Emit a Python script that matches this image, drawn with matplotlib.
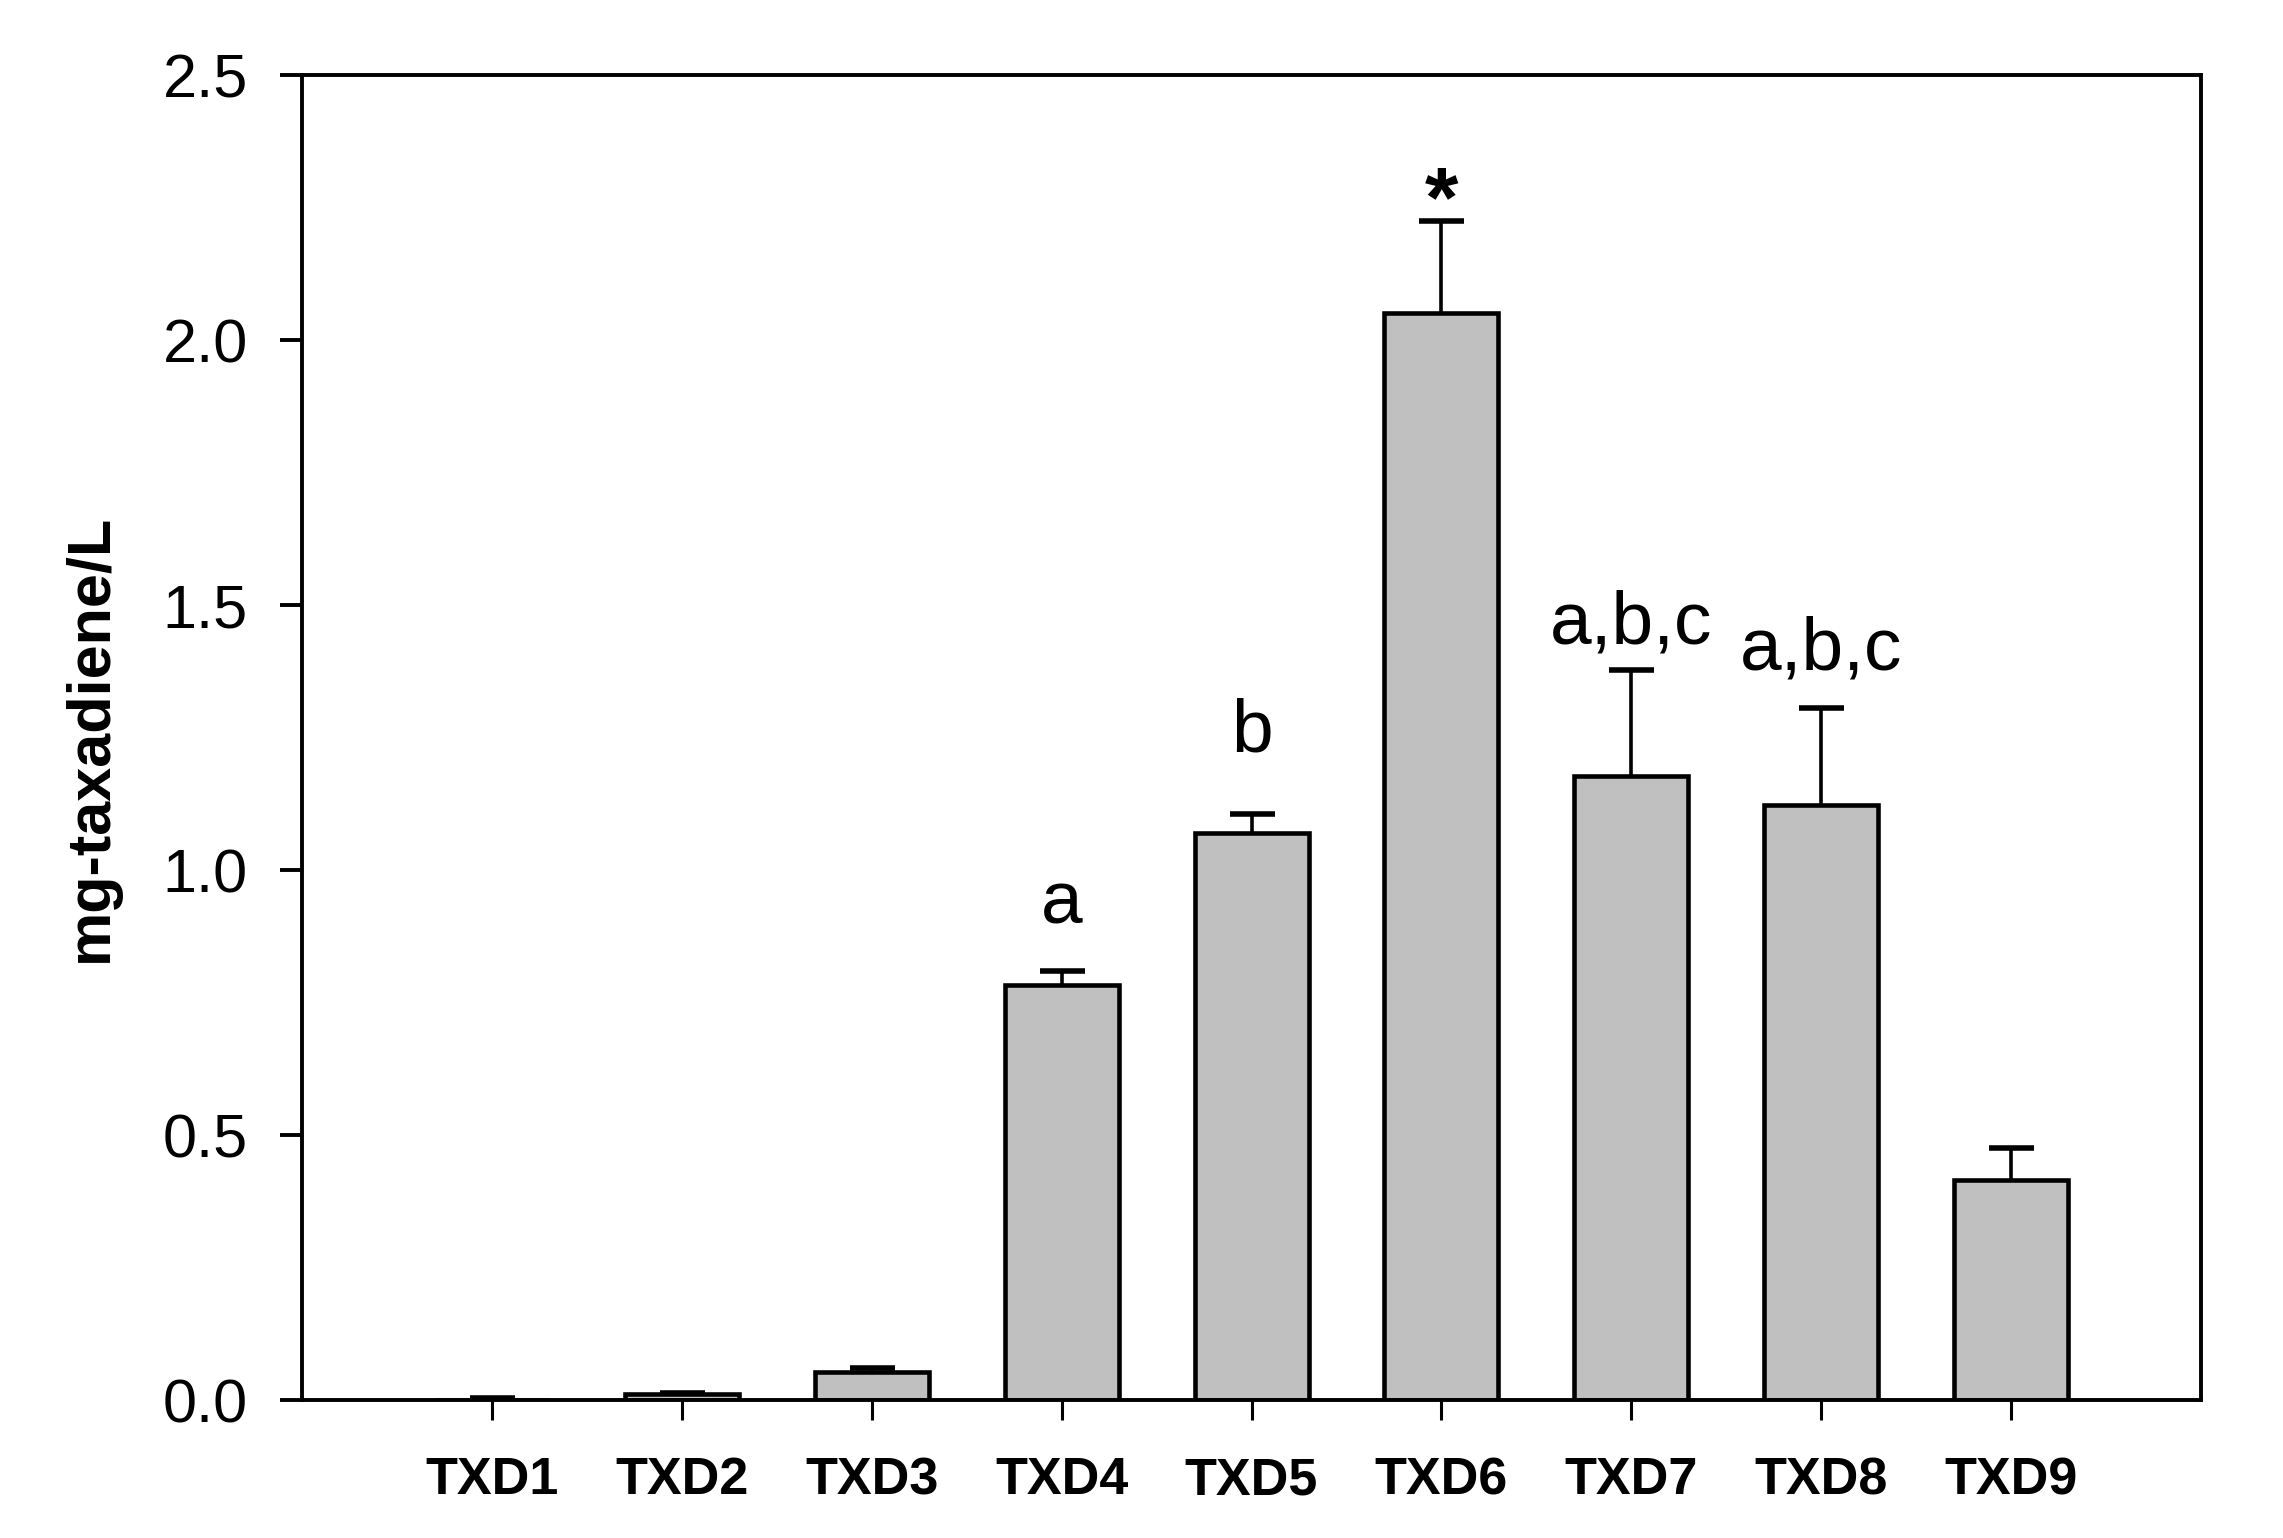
import matplotlib
matplotlib.use("Agg")
import matplotlib.pyplot as plt

plt.rcParams['font.family'] = ['Liberation Sans', 'DejaVu Sans']

# data
samples = ["TXD1", "TXD2", "TXD3", "TXD4", "TXD5", "TXD6", "TXD7", "TXD8", "TXD9"]
means = [0.001, 0.011, 0.052, 0.783, 1.070, 2.051, 1.177, 1.122, 0.415]
errors = [0.002, 0.003, 0.008, 0.026, 0.036, 0.173, 0.200, 0.184, 0.060]
letters = ["", "", "", "a", "b", "*", "a,b,c", "a,b,c", ""]

# vertical gap (points) between error cap and the letter baseline
letter_gap = [0, 0, 0, 34.6, 44.6, -3.6, 19.4, 27.4, 0]

fig = plt.figure(figsize=(22.83, 15.38), dpi=100)
ax = fig.add_axes([0.1323, 0.0897, 0.8318, 0.8615])

x = list(range(1, len(samples) + 1))
ax.bar(x, means, width=0.6, color="#c0c0c0", edgecolor="black",
       linewidth=3.3, zorder=2)

lower = [0.0] * len(errors)
_, caps, _ = ax.errorbar(x, means, yerr=[lower, errors], fmt="none",
                         ecolor="black", elinewidth=2.6, capsize=16.2,
                         capthick=4.0, zorder=3)
# only the upper cap is drawn
caps[0].set_visible(False)

for xi, m, e, lab, gap in zip(x, means, errors, letters, letter_gap):
    if lab == "*":
        ax.annotate(lab, (xi, m + e), xytext=(0, gap), textcoords="offset points",
                    ha="center", va="baseline", fontsize=62, fontweight="bold")
    elif lab:
        ax.annotate(lab, (xi, m + e), xytext=(0, gap), textcoords="offset points",
                    ha="center", va="baseline", fontsize=54)

ax.set_xlim(0, 10)
ax.set_ylim(0, 2.5)
ax.set_yticks([0.0, 0.5, 1.0, 1.5, 2.0, 2.5])
ax.set_yticklabels(["0.0", "0.5", "1.0", "1.5", "2.0", "2.5"])
ax.set_xticks(x)
ax.set_xticklabels(samples, fontweight="bold", fontsize=37.5)

ax.tick_params(axis="y", direction="out", length=16, width=2.8, pad=23, labelsize=44)
ax.tick_params(axis="x", direction="out", length=14.5, width=2.2, pad=26)

for s in ax.spines.values():
    s.set_linewidth(2.8)

ax.set_ylabel("mg-taxadiene/L", fontsize=44, fontweight="bold", labelpad=31)

fig.savefig("out.png", dpi=100, facecolor="white")
